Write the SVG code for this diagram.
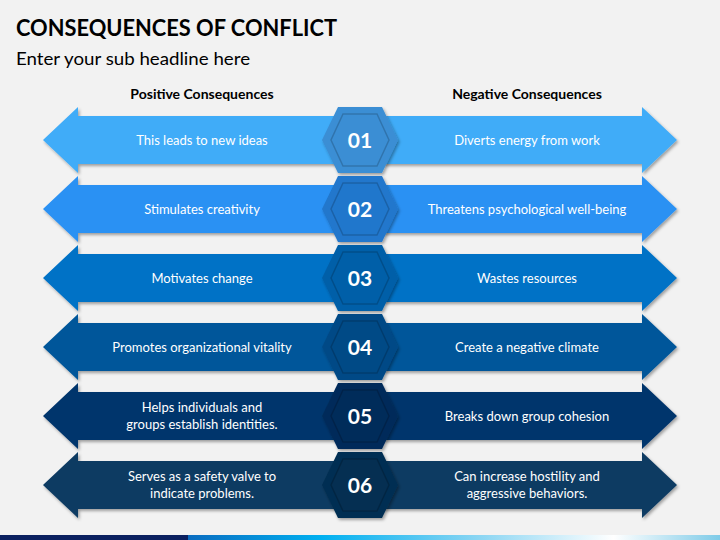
<svg xmlns="http://www.w3.org/2000/svg" xmlns:xlink="http://www.w3.org/1999/xlink" width="720" height="540" viewBox="0 0 720 540">
<defs>
<filter id="sh" x="-10%" y="-30%" width="120%" height="160%">
<feDropShadow dx="1.5" dy="2" stdDeviation="1.8" flood-color="#000" flood-opacity="0.35"/>
</filter>
<polygon id="la" points="361,-24 78,-24 78,-33 43,0 78,33 78,24 361,24"/>
<polygon id="ra" points="359,-24 642,-24 642,-33 677,0 642,33 642,24 359,24"/>
<polygon id="ho" points="-22,-33 22,-33 38,0 22,33 -22,33 -38,0"/>
<polygon id="hi" points="-17,-26 17,-26 29,0 17,26 -17,26 -29,0"/>
<linearGradient id="bar" x1="0" y1="0" x2="1" y2="0">
<stop offset="0" stop-color="#0a6cc0"/>
<stop offset="0.25" stop-color="#00b0f0"/>
<stop offset="0.55" stop-color="#8cd6f3"/>
<stop offset="0.8" stop-color="#ffffff"/>
<stop offset="1" stop-color="#7ecbe8"/>
</linearGradient>
</defs>
<style>
.arr{filter:url(#sh)}
.hx{filter:url(#sh)}
.in{stroke:#000;stroke-opacity:0.18;stroke-width:1.5}
.t{font-family:Lato,"Liberation Sans",sans-serif;font-size:13px;fill:#fff;text-anchor:middle}
.n{font-family:Lato,"Liberation Sans",sans-serif;font-size:21px;font-weight:bold;fill:#fff;text-anchor:middle}
.h{font-family:Lato,"Liberation Sans",sans-serif;font-size:14px;font-weight:bold;fill:#000;text-anchor:middle}
</style>
<rect width="720" height="540" fill="#f2f2f2"/>
<text x="16" y="36" font-family="Lato,'Liberation Sans',sans-serif" font-size="23" font-weight="bold" fill="#000" textLength="321" lengthAdjust="spacingAndGlyphs">CONSEQUENCES OF CONFLICT</text>
<text x="16" y="65" font-family="Lato,'Liberation Sans',sans-serif" font-size="17" fill="#000" textLength="234" lengthAdjust="spacingAndGlyphs">Enter your sub headline here</text>
<text class="h" x="202" y="99">Positive Consequences</text>
<text class="h" x="527" y="99">Negative Consequences</text>

<g id="row1" transform="translate(0,140)">
<use href="#la" xlink:href="#la" class="arr" fill="#41acf8"/>
<use href="#ra" xlink:href="#ra" class="arr" fill="#41acf8"/>
<g id="hex1" transform="translate(360,0)"><use href="#ho" xlink:href="#ho" class="hx" fill="#3b8ed4"/><use href="#hi" xlink:href="#hi" class="in" fill="#3b8ed4"/></g>
<text class="t" x="202" y="4.5">This leads to new ideas</text>
<text class="t" x="527" y="4.5">Diverts energy from work</text>
<text class="n" x="360" y="7.5">01</text>
</g>
<g id="row2" transform="translate(0,209)">
<use href="#la" xlink:href="#la" class="arr" fill="#2b91f3"/>
<use href="#ra" xlink:href="#ra" class="arr" fill="#2b91f3"/>
<g id="hex2" transform="translate(360,0)"><use href="#ho" xlink:href="#ho" class="hx" fill="#2077cc"/><use href="#hi" xlink:href="#hi" class="in" fill="#2077cc"/></g>
<text class="t" x="202" y="4.5">Stimulates creativity</text>
<text class="t" x="527" y="4.5">Threatens psychological well-being</text>
<text class="n" x="360" y="7.5">02</text>
</g>
<g id="row3" transform="translate(0,278)">
<use href="#la" xlink:href="#la" class="arr" fill="#0672c6"/>
<use href="#ra" xlink:href="#ra" class="arr" fill="#0672c6"/>
<g id="hex3" transform="translate(360,0)"><use href="#ho" xlink:href="#ho" class="hx" fill="#005fa8"/><use href="#hi" xlink:href="#hi" class="in" fill="#005fa8"/></g>
<text class="t" x="202" y="4.5">Motivates change</text>
<text class="t" x="527" y="4.5">Wastes resources</text>
<text class="n" x="360" y="7.5">03</text>
</g>
<g id="row4" transform="translate(0,347)">
<use href="#la" xlink:href="#la" class="arr" fill="#05579a"/>
<use href="#ra" xlink:href="#ra" class="arr" fill="#05579a"/>
<g id="hex4" transform="translate(360,0)"><use href="#ho" xlink:href="#ho" class="hx" fill="#004a86"/><use href="#hi" xlink:href="#hi" class="in" fill="#004a86"/></g>
<text class="t" x="202" y="4.5">Promotes organizational vitality</text>
<text class="t" x="527" y="4.5">Create a negative climate</text>
<text class="n" x="360" y="7.5">04</text>
</g>
<g id="row5" transform="translate(0,416)">
<use href="#la" xlink:href="#la" class="arr" fill="#04356c"/>
<use href="#ra" xlink:href="#ra" class="arr" fill="#04356c"/>
<g id="hex5" transform="translate(360,0)"><use href="#ho" xlink:href="#ho" class="hx" fill="#002c5a"/><use href="#hi" xlink:href="#hi" class="in" fill="#002c5a"/></g>
<text class="t" x="202" y="-4">Helps individuals and</text>
<text class="t" x="202" y="13">groups establish identities.</text>
<text class="t" x="527" y="4.5">Breaks down group cohesion</text>
<text class="n" x="360" y="7.5">05</text>
</g>
<g id="row6" transform="translate(0,485)">
<use href="#la" xlink:href="#la" class="arr" fill="#0b3a62"/>
<use href="#ra" xlink:href="#ra" class="arr" fill="#0b3a62"/>
<g id="hex6" transform="translate(360,0)"><use href="#ho" xlink:href="#ho" class="hx" fill="#052f52"/><use href="#hi" xlink:href="#hi" class="in" fill="#052f52"/></g>
<text class="t" x="202" y="-4">Serves as a safety valve to</text>
<text class="t" x="202" y="13">indicate problems.</text>
<text class="t" x="527" y="-4">Can increase hostility and</text>
<text class="t" x="527" y="13">aggressive behaviors.</text>
<text class="n" x="360" y="7.5">06</text>
</g>
<rect x="0" y="535" width="188" height="5" fill="#0b2060"/>
<rect x="188" y="535" width="532" height="5" fill="url(#bar)"/>
</svg>
